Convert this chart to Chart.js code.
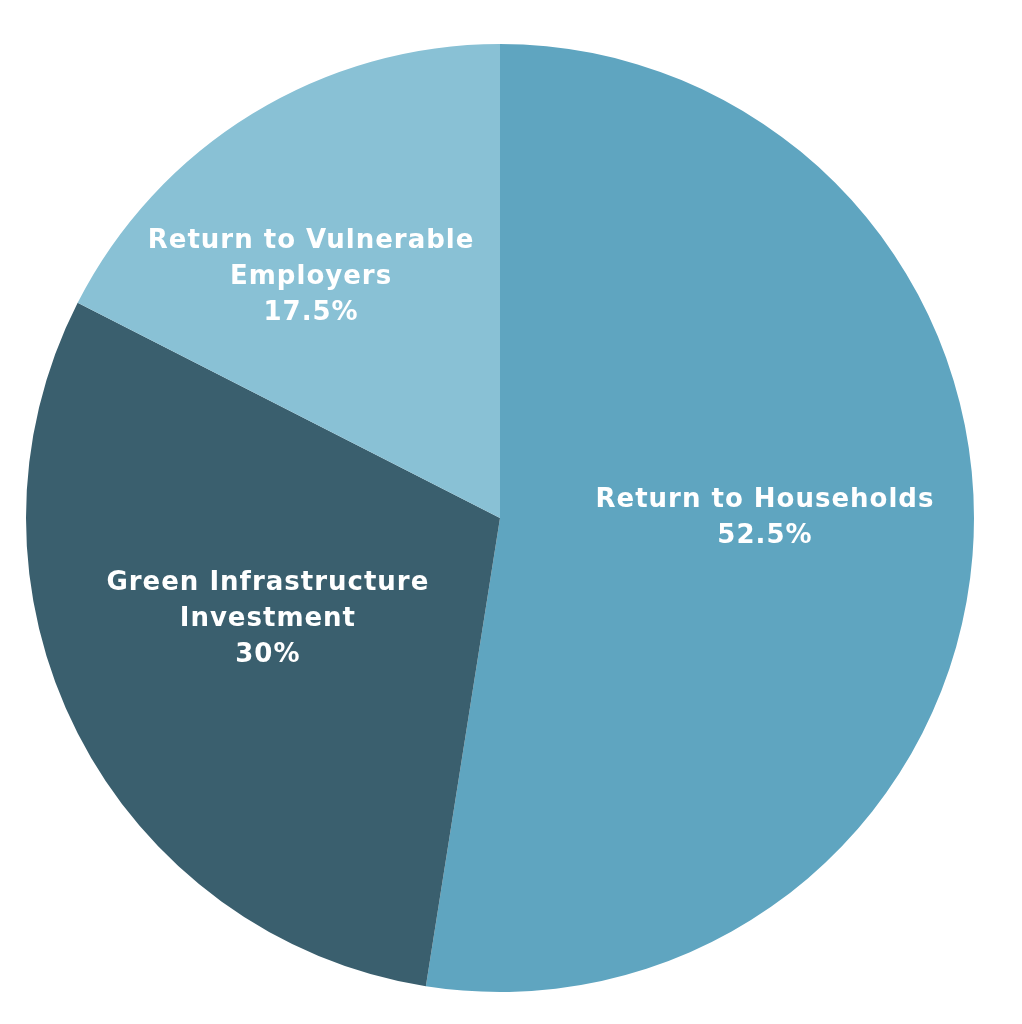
<!DOCTYPE html>
<html>
<head>
<meta charset="utf-8">
<script src="https://cdn.jsdelivr.net/npm/chart.js@4"></script>
<style>
  html, body { margin: 0; padding: 0; background: #fff; }
  #wrap { width: 1022px; height: 1024px; }
</style>
</head>
<body>
<div id="wrap"><canvas id="pieChart" width="1022" height="1024"></canvas></div>
<script>
// Chart data
const labels = ['Return to Households', 'Green Infrastructure Investment', 'Return to Vulnerable Employers'];
const labelLines = [['Return to Households'], ['Green Infrastructure', 'Investment'], ['Return to Vulnerable', 'Employers']];
const shares = [52.5, 30, 17.5];
const shareText = ['52.5%', '30%', '17.5%'];
const colors = ['#5fa5c0', '#3a5f6e', '#89c1d5'];

// label placement: angle shift (deg) and fraction of radius
const labelPos = [
    { shift: -4.4, frac: 0.559 },
    { shift: 3.5, frac: 0.534 },
    { shift: -6.6, frac: 0.646 }
];

const sliceLabels = {
    id: 'sliceLabels',
    afterDatasetsDraw(chart) {
        const ctx = chart.ctx;
        const meta = chart.getDatasetMeta(0);
        ctx.save();
        ctx.fillStyle = '#ffffff';
        ctx.textAlign = 'center';
        ctx.textBaseline = 'middle';
        ctx.font = 'bold 26px "DejaVu Sans", sans-serif';
        ctx.letterSpacing = '1px';
        meta.data.forEach((arc, i) => {
            const p = arc.getProps(['x', 'y', 'startAngle', 'endAngle', 'outerRadius'], true);
            const mid = (p.startAngle + p.endAngle) / 2 + labelPos[i].shift * Math.PI / 180;
            const r = p.outerRadius * labelPos[i].frac;
            const cx = p.x + Math.cos(mid) * r;
            const cy = p.y + Math.sin(mid) * r;
            const lines = labelLines[i].concat([shareText[i]]);
            const lh = 36;
            const top = cy - (lines.length - 1) * lh / 2;
            lines.forEach((t, j) => ctx.fillText(t, cx, top + j * lh));
        });
        ctx.restore();
    }
};

const ctx = document.getElementById('pieChart').getContext('2d');
const pieChart = new Chart(ctx, {
    type: 'pie',
    data: {
        labels: labels,
        datasets: [{
            data: shares,
            backgroundColor: colors,
            borderWidth: 0
        }]
    },
    options: {
        responsive: false,
        animation: false,
        layout: {
            padding: { left: 26, right: 48, top: 44, bottom: 32 }
        },
        plugins: {
            legend: { display: false },
            tooltip: { enabled: false }
        }
    },
    plugins: [sliceLabels]
});
</script>
</body>
</html>
